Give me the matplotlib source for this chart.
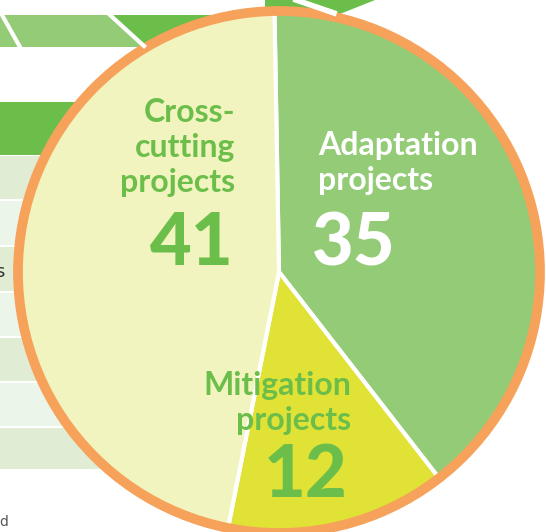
import matplotlib.pyplot as plt
from matplotlib.patches import Circle, Rectangle, Polygon

# DATA
labels = ['Adaptation\nprojects', 'Mitigation\nprojects', 'Cross-\ncutting\nprojects']
values = [35, 12, 41]
colors = ['#93cb77', '#e1e236', '#f1f4be']

W, H = 546, 532
GREEN = '#6cbe4b'
LIGHT = '#93cb77'
ORANGE = '#f6a25a'

def Y(y):
    # image coords (top-down) -> axes coords
    return H - y

fig = plt.figure(figsize=(W / 100, H / 100), dpi=100)
ax = fig.add_axes([0, 0, 1, 1])

# background: top stripes
ax.add_patch(Polygon([(0, Y(15)), (110, Y(15)), (144, Y(47)), (0, Y(47))], color=LIGHT, lw=0))
ax.add_patch(Polygon([(110, Y(15)), (300, Y(15)), (300, Y(47)), (144, Y(47))], color=GREEN, lw=0))
ax.plot([2, 20], [Y(15), Y(47)], color='white', lw=3)
ax.plot([110, 144], [Y(15), Y(46)], color='white', lw=3)
ax.add_patch(Polygon([(265, Y(0)), (375, Y(0)), (340, Y(14)), (265, Y(14))], color=GREEN, lw=0))
ax.plot([296, 334], [Y(0), Y(13)], color='white', lw=4)

# background: table
ax.add_patch(Rectangle((0, Y(155)), 300, 53, color=GREEN, lw=0))
row_edges = [155, 200, 246, 292, 337, 382, 427, 470]
for i in range(len(row_edges) - 1):
    top, bot = row_edges[i] + 1, row_edges[i + 1] - 1
    c = '#e0edd4' if i % 2 == 0 else '#ebf5ea'
    ax.add_patch(Rectangle((0, Y(bot)), 300, bot - top, color=c, lw=0))
ax.text(4, Y(272), 's', ha='right', va='center', fontsize=13, color='#333333')
ax.text(8, Y(522), 'd', ha='right', va='center', fontsize=10, color='#555555')

# pie
cx, cy = 279, Y(272)
ax.pie(values, colors=colors, startangle=91, counterclock=False,
       center=(cx, cy), radius=262, frame=True,
       wedgeprops=dict(edgecolor='white', linewidth=3))
ax.set_xlim(0, W)
ax.set_ylim(0, H)
ax.set_aspect('equal')
ax.axis('off')
ax.add_patch(Circle((cx, cy), 261, facecolor='none', edgecolor=ORANGE, lw=7))

# labels: (x, first baseline, ha, colour) per slice
font = ['Lato', 'DejaVu Sans']
label_pos = [(318, 155, 'left', 'white'),
             (351, 395, 'right', GREEN),
             (235, 122, 'right', GREEN)]
number_pos = [(312, 265, 'left', 'white'),
              (348, 497, 'right', GREEN),
              (234, 265, 'right', GREEN)]

for lab, (x, y0, ha, c) in zip(labels, label_pos):
    for k, line in enumerate(lab.split('\n')):
        ax.text(x, Y(y0 + 35 * k), line, ha=ha, va='baseline', fontsize=23,
                color=c, fontweight='bold', family=font)

for v, (x, y0, ha, c) in zip(values, number_pos):
    ax.text(x, Y(y0), str(v), ha=ha, va='baseline', fontsize=52,
            color=c, fontweight='black', family=font)

fig.savefig('out.png', dpi=100)
